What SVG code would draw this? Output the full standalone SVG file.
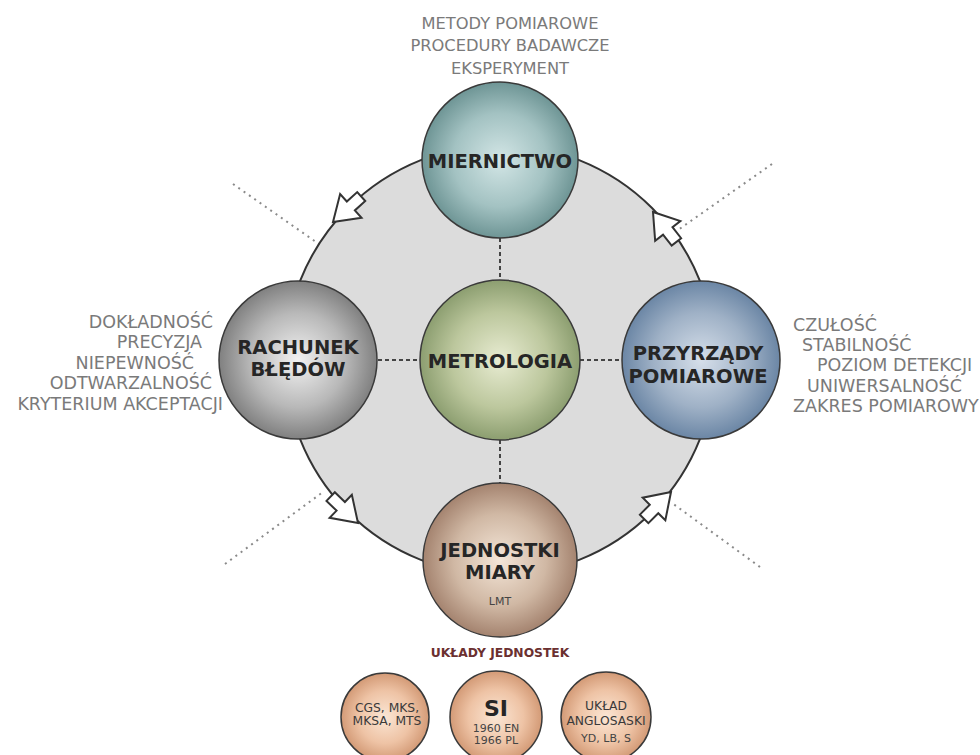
<svg xmlns="http://www.w3.org/2000/svg" width="980" height="755" viewBox="0 0 980 755">
  <style>
    .side { font-family: "DejaVu Sans", Verdana, sans-serif; font-size: 17.5px; fill: #7a7a7a; }
    .top { font-family: "DejaVu Sans", Verdana, sans-serif; font-size: 16.3px; fill: #7a7a7a; }
    .node { stroke: #3a3a3a; stroke-width: 1.5; }
    .label { font-family: "DejaVu Sans", Verdana, sans-serif; font-weight: bold; font-size: 19.5px; fill: #262626; text-anchor: middle; }
    .small { font-family: "DejaVu Sans", Verdana, sans-serif; font-size: 12.3px; fill: #3a3a3a; text-anchor: middle; }
    .tiny { font-family: "DejaVu Sans", Verdana, sans-serif; font-size: 11px; fill: #444; text-anchor: middle; }
    .inner { stroke: #444; stroke-width: 2; stroke-dasharray: 4 3; fill: none; }
    .outer { stroke: #8a8a8a; stroke-width: 2; stroke-dasharray: 2 4.5; fill: none; }
    .flow { fill: #fff; stroke: #333; stroke-width: 2; stroke-linejoin: miter; }
  </style>
  <defs>
    <radialGradient id="gTeal"><stop offset="0" stop-color="#d3e6e6"/><stop offset="0.6" stop-color="#a3c2c2"/><stop offset="1" stop-color="#6e9595"/></radialGradient>
    <radialGradient id="gGreen"><stop offset="0" stop-color="#e8ecd2"/><stop offset="0.6" stop-color="#bcc79d"/><stop offset="1" stop-color="#8c9e70"/></radialGradient>
    <radialGradient id="gGray"><stop offset="0" stop-color="#f2f2f2"/><stop offset="0.6" stop-color="#b8b8b8"/><stop offset="1" stop-color="#808080"/></radialGradient>
    <radialGradient id="gBlue"><stop offset="0" stop-color="#d6dfea"/><stop offset="0.6" stop-color="#9fb1c6"/><stop offset="1" stop-color="#6b86a5"/></radialGradient>
    <radialGradient id="gTan"><stop offset="0" stop-color="#f4e6d8"/><stop offset="0.6" stop-color="#d0b8a4"/><stop offset="1" stop-color="#a4836f"/></radialGradient>
    <radialGradient id="gPeach"><stop offset="0" stop-color="#fbe6d4"/><stop offset="0.6" stop-color="#eec3a5"/><stop offset="1" stop-color="#d39a76"/></radialGradient>
    <polygon id="flowArrow" points="0,0 -24,-16 -24,-6 -38,-6 -38,6 -24,6 -24,16"/>
  </defs>

  <!-- ring background -->
  <circle cx="500" cy="360" r="215" fill="#dcdcdc" stroke="#333" stroke-width="2"/>

  <!-- connectors -->
  <g id="connectors">
    <line class="outer" x1="233" y1="184" x2="316" y2="242"/>
    <line class="outer" x1="772" y1="164" x2="678" y2="230"/>
    <line class="outer" x1="225" y1="564" x2="323" y2="492"/>
    <line class="outer" x1="760" y1="567" x2="672" y2="503"/>
    <line class="inner" x1="500" y1="238" x2="500" y2="280"/>
    <line class="inner" x1="500" y1="440" x2="500" y2="483"/>
    <line class="inner" x1="378" y1="360" x2="420" y2="360"/>
    <line class="inner" x1="580" y1="360" x2="622" y2="360"/>
    <use href="#flowArrow" class="flow" transform="translate(333,222) rotate(138)"/>
    <use href="#flowArrow" class="flow" transform="translate(653,212) rotate(-128)"/>
    <use href="#flowArrow" class="flow" transform="translate(358,523) rotate(44)"/>
    <use href="#flowArrow" class="flow" transform="translate(671,492) rotate(-45)"/>
  </g>

  <!-- descriptive lists -->
  <g id="list-top" class="top" text-anchor="middle">
    <text x="510" y="29">METODY POMIAROWE</text>
    <text x="510" y="51">PROCEDURY BADAWCZE</text>
    <text x="510" y="74">EKSPERYMENT</text>
  </g>
  <g id="list-left" class="side" text-anchor="end">
    <text x="213" y="328">DOKŁADNOŚĆ</text>
    <text x="202" y="348">PRECYZJA</text>
    <text x="194" y="369">NIEPEWNOŚĆ</text>
    <text x="212" y="389">ODTWARZALNOŚĆ</text>
    <text x="223" y="410">KRYTERIUM AKCEPTACJI</text>
  </g>
  <g id="list-right" class="side">
    <text x="793" y="331">CZUŁOŚĆ</text>
    <text x="802" y="351">STABILNOŚĆ</text>
    <text x="817" y="371">POZIOM DETEKCJI</text>
    <text x="807" y="392">UNIWERSALNOŚĆ</text>
    <text x="793" y="412">ZAKRES POMIAROWY</text>
  </g>

  <!-- main nodes -->
  <g id="miernictwo">
    <circle class="node" cx="500" cy="160" r="78" fill="url(#gTeal)"/>
    <text class="label" x="500" y="168">MIERNICTWO</text>
  </g>
  <g id="metrologia">
    <circle class="node" cx="500" cy="360" r="80" fill="url(#gGreen)"/>
    <text class="label" x="500" y="368">METROLOGIA</text>
  </g>
  <g id="rachunek">
    <circle class="node" cx="298" cy="360" r="79" fill="url(#gGray)"/>
    <text class="label" x="298" y="354">RACHUNEK</text>
    <text class="label" x="298" y="376">BŁĘDÓW</text>
  </g>
  <g id="przyrzady">
    <circle class="node" cx="701" cy="360" r="79" fill="url(#gBlue)"/>
    <text class="label" x="698" y="360">PRZYRZĄDY</text>
    <text class="label" x="698" y="383">POMIAROWE</text>
  </g>
  <g id="jednostki">
    <circle class="node" cx="500" cy="560" r="77" fill="url(#gTan)"/>
    <text class="label" x="500" y="557">JEDNOSTKI</text>
    <text class="label" x="500" y="579">MIARY</text>
    <text class="tiny" x="500" y="605" fill="#555">LMT</text>
  </g>

  <!-- unit systems -->
  <text x="500" y="657" text-anchor="middle" font-family="DejaVu Sans, Verdana, sans-serif" font-weight="bold" font-size="12.3" fill="#6b3030">UKŁADY JEDNOSTEK</text>
  <g id="cgs">
    <circle class="node" cx="385" cy="717" r="44" fill="url(#gPeach)"/>
    <text class="small" x="387" y="712">CGS, MKS,</text>
    <text class="small" x="387" y="725">MKSA, MTS</text>
  </g>
  <g id="si">
    <circle class="node" cx="496" cy="717" r="46" fill="url(#gPeach)"/>
    <text x="496" y="716" text-anchor="middle" font-family="DejaVu Sans, Verdana, sans-serif" font-weight="bold" font-size="22" fill="#262626">SI</text>
    <text class="tiny" x="496" y="732">1960 EN</text>
    <text class="tiny" x="496" y="744">1966 PL</text>
  </g>
  <g id="anglosaski">
    <circle class="node" cx="606" cy="717" r="45" fill="url(#gPeach)"/>
    <text class="small" x="606" y="710">UKŁAD</text>
    <text class="small" x="606" y="725">ANGLOSASKI</text>
    <text class="tiny" x="606" y="742">YD, LB, S</text>
  </g>
</svg>
